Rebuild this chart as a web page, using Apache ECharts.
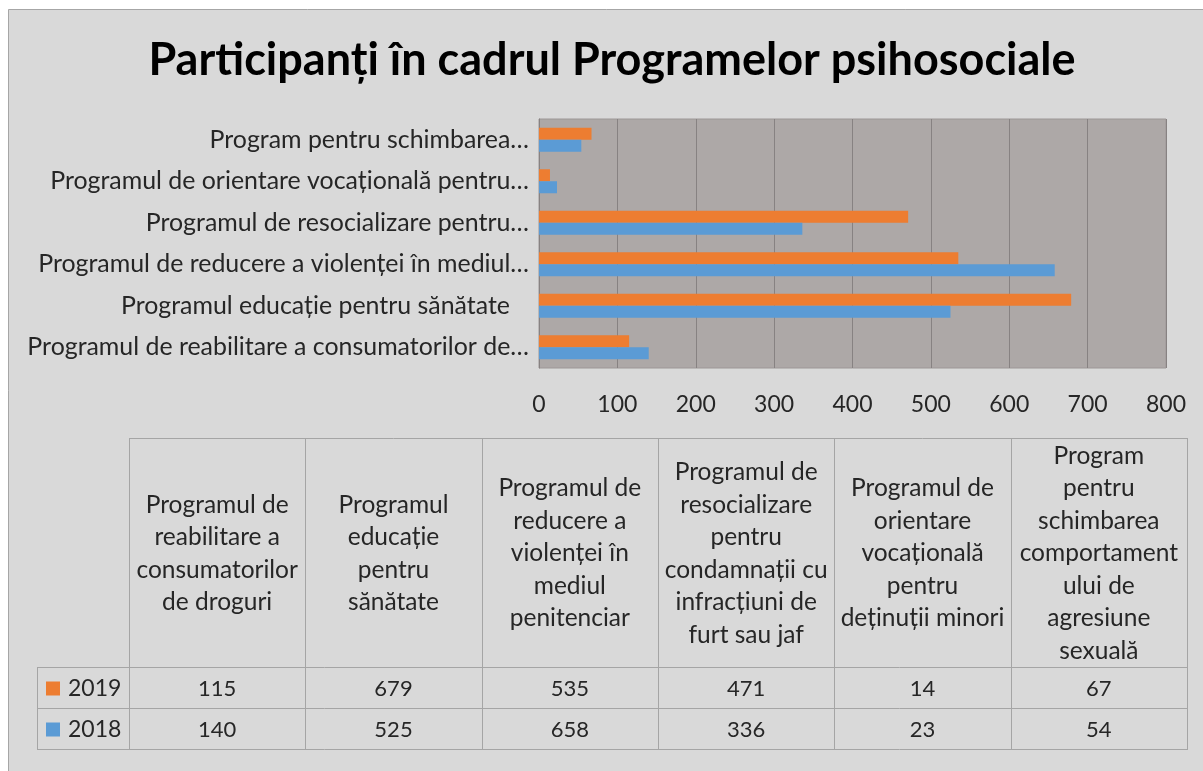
<!DOCTYPE html>
<html>
<head>
<meta charset="utf-8">
<script src="https://cdn.jsdelivr.net/npm/echarts@6/dist/echarts.min.js"></script>
<style>html,body{margin:0;padding:0;background:#fff;}#c{width:1203px;height:771px;}</style>
</head>
<body>
<div id="c"></div>
<script>
// ---- data ----
var axisLabels = [
  'Programul de reabilitare a consumatorilor de…',
  'Programul educație pentru sănătate   ',
  'Programul de reducere a violenței în mediul…',
  'Programul de resocializare pentru…',
  'Programul de orientare vocațională pentru…',
  'Program pentru schimbarea…'
];
var tableHeaders = [
  'Programul de\nreabilitare a\nconsumatorilor\nde droguri',
  'Programul\neducație\npentru\nsănătate',
  'Programul de\nreducere a\nviolenței în\nmediul\npenitenciar',
  'Programul de\nresocializare\npentru\ncondamnații cu\ninfracțiuni de\nfurt sau jaf',
  'Programul de\norientare\nvocațională\npentru\ndeținuții minori',
  'Program\npentru\nschimbarea\ncomportament\nului de\nagresiune\nsexuală'
];
var years = ['2019', '2018'];
var values2019 = [115, 679, 535, 471, 14, 67];
var values2018 = [140, 525, 658, 336, 23, 54];
var xTicks = [0, 100, 200, 300, 400, 500, 600, 700, 800];

var COL_ORANGE = '#ED7D31', COL_BLUE = '#5B9BD5';
var FONT = 'Lato';
var TXT = '#262626';

// ---- table graphics ----
var tblLeft = 37, hdrLeft = 129, tblRight = 1187;
var tblTop = 438, hdrBottom = 667, row1Bottom = 708, tblBottom = 749;
var colW = (tblRight - hdrLeft) / tableHeaders.length;
var lineStyle = {stroke: '#a5a5a5', lineWidth: 1};
var g = [];
// chart frame
g.push({type: 'rect', shape: {x: 8.5, y: 9.5, width: 1300, height: 900}, style: {fill: '#d9d9d9', stroke: '#a6a6a6', lineWidth: 1}, z: -10});
function hline(x1, x2, y) { g.push({type: 'line', shape: {x1: x1, y1: y + 0.5, x2: x2, y2: y + 0.5}, style: lineStyle}); }
function vline(x, y1, y2) { g.push({type: 'line', shape: {x1: x + 0.5, y1: y1, x2: x + 0.5, y2: y2}, style: lineStyle}); }
hline(hdrLeft, tblRight, tblTop);
hline(tblLeft, tblRight, hdrBottom);
hline(tblLeft, tblRight, row1Bottom);
hline(tblLeft, tblRight, tblBottom);
vline(tblLeft, hdrBottom, tblBottom + 1);
for (var i = 0; i <= tableHeaders.length; i++) {
  vline(Math.round(hdrLeft + i * colW), tblTop, tblBottom + 1);
}
var rowsVals = [values2019, values2018];
var rowsCol = [COL_ORANGE, COL_BLUE];
var rowTops = [hdrBottom, row1Bottom], rowBots = [row1Bottom, tblBottom];
for (var i = 0; i < tableHeaders.length; i++) {
  var cx = hdrLeft + (i + 0.5) * colW;
  g.push({type: 'text', x: cx, y: (tblTop + hdrBottom) / 2 + 1, style: {text: tableHeaders[i], fill: TXT, font: '24.5px ' + FONT, align: 'center', verticalAlign: 'middle', lineHeight: 32.5}});
  for (var r = 0; r < 2; r++) {
    g.push({type: 'text', x: cx, y: (rowTops[r] + rowBots[r]) / 2 + 1, style: {text: String(rowsVals[r][i]), fill: TXT, font: '22px ' + FONT, align: 'center', verticalAlign: 'middle'}});
  }
}
for (var r = 0; r < 2; r++) {
  var cy = (rowTops[r] + rowBots[r]) / 2 + 1;
  g.push({type: 'rect', shape: {x: 46, y: cy - 7, width: 14, height: 14}, style: {fill: rowsCol[r]}});
  g.push({type: 'text', x: 68, y: cy, style: {text: years[r], fill: TXT, font: '23px ' + FONT, align: 'left', verticalAlign: 'middle'}});
}

var chart = echarts.init(document.getElementById('c'));
chart.setOption({
  backgroundColor: '#ffffff',
  animation: false,
  title: {
    text: 'Participanți în cadrul Programelor psihosociale',
    left: 607, top: 33, textAlign: 'center',
    textStyle: {fontFamily: FONT, fontWeight: 'bold', fontSize: 45, color: '#000'}
  },
  grid: {left: 539, top: 119, width: 627, height: 249, show: true, backgroundColor: '#ada8a7', borderColor: '#9c9796', borderWidth: 1},
  xAxis: {
    type: 'value', min: 0, max: 800, interval: 100,
    axisLine: {show: false}, axisTick: {show: false},
    splitLine: {lineStyle: {color: '#878282', width: 1}},
    axisLabel: {fontFamily: FONT, fontSize: 23, color: TXT, margin: 25,
      formatter: function (v) { return xTicks.indexOf(v) >= 0 ? String(v) : ''; }}
  },
  yAxis: {
    type: 'category', data: axisLabels,
    axisLine: {show: true, lineStyle: {color: '#878282'}}, axisTick: {show: false},
    axisLabel: {fontFamily: FONT, fontSize: 24.9, color: TXT, margin: 10}
  },
  series: [
    {name: '2019', type: 'bar', data: values2019, barWidth: 12, barGap: '0%', itemStyle: {color: COL_ORANGE}},
    {name: '2018', type: 'bar', data: values2018, barWidth: 12, barGap: '0%', itemStyle: {color: COL_BLUE}}
  ],
  graphic: g
});
</script>
</body>
</html>
